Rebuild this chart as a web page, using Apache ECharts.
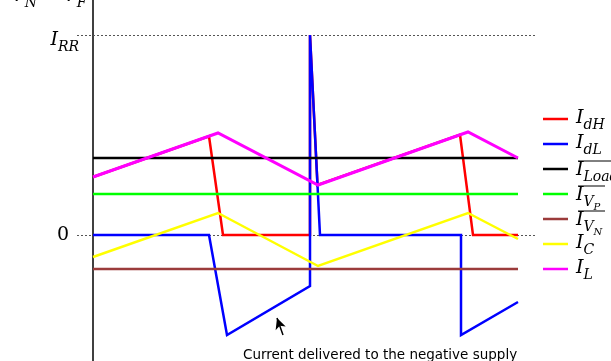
<!DOCTYPE html>
<html>
<head>
<meta charset="utf-8">
<script src="https://cdn.jsdelivr.net/npm/echarts@6/dist/echarts.min.js"></script>
<style>
  html, body { margin: 0; padding: 0; background: #fff; }
  #chart { width: 611px; height: 361px; }
</style>
</head>
<body>
<div id="chart"></div>
<script>
// Time axis in arbitrary units (one switching period ≈ 251), currents in arbitrary units.
const tRange = [0, 425];

// Inductor current (triangular ripple)
const iL = [[0, 58], [125, 102], [225, 50], [375, 103], [425, 77]];
// Capacitor current
const iC = [[0, -22], [125, 22], [225, -31], [375, 22], [425, -4]];
// High-side device current (follows I_L while conducting)
const iDH = [[0, 58], [116, 98.8], [130, 0], [217, 0], [217, 200], [224.5, 50], [367, 100.2], [380, 0], [425, 0]];
// Low-side device current, with reverse-recovery spike
const iDL = [[0, 0], [116, 0], [134, -100], [217, -51], [217, 200], [227, 0], [368, 0], [368, -100], [425, -67]];
// Average values
const iLoadAvg = 77;
const iVPAvg = 41;
const iVNAvg = -34;

// Y tick values and their labels
const yTickValues = [0, 200];
const yTickLabels = ['{z|0}', '{ai|I}{as|RR}'];

// Legend entries (math-style labels; averaged quantities get an overbar)
const seriesNames = ['IdH', 'IdL', 'ILoad', 'IVP', 'IVN', 'IC', 'IL'];
const legendLabels = [
  '{i|I}{s|dH}',
  '{i|I}{s|dL}',
  '{i|I}{s|Load}',
  '{i|I}{s|V}{ss|P}',
  '{i|I}{s|V}{ss|N}',
  '{i|I}{s|C}',
  '{i|I}{s|L}'
];
const legendOverbar = [false, false, true, true, true, false, false];
const seriesColors = ['#ff0000', '#0000ff', '#000000', '#00ff00', '#9b3b3b', '#ffff00', '#ff00ff'];
const seriesWidths = [2.5, 2.5, 2.5, 2.5, 2.5, 2.5, 3];

// Annotation arrow (tail → head) and its text
const arrowTail = [190, -100];
const arrowHead = [184, -83];
const noteText = 'Current delivered to the negative supply';

const serif = 'DejaVu Serif';
function tok(size, lh, pad) {
  return { fontFamily: serif, fontStyle: 'italic', fontSize: size, lineHeight: lh, verticalAlign: 'top', padding: pad, color: '#000', fill: '#000' };
}
const rich = {
  i: tok(19, 19, [0, 0, 0, 0]),
  s: tok(14, 14, [9, 0, 0, 0]),
  ss: tok(10, 10, [16, 0, 0, 0]),
  ai: tok(19, 19, [5, 0, 0, 0]),
  as: tok(14, 13, [15, 0, 0, 0]),
  z: { fontFamily: serif, fontSize: 19, lineHeight: 19, padding: [0, 10, 0, 0], color: '#000' }
};

function flat(v) { return [[tRange[0], v], [tRange[1], v]]; }

const seriesData = [iDH, iDL, flat(iLoadAvg), flat(iVPAvg), flat(iVNAvg), iC, iL];

const series = seriesData.map((d, k) => ({
  name: seriesNames[k],
  type: 'line',
  data: d,
  symbol: 'none',
  showSymbol: false,
  animation: false,
  z: 2 + k,
  lineStyle: { color: seriesColors[k], width: seriesWidths[k], join: 'miter' },
  itemStyle: { color: seriesColors[k] }
}));

// Dotted reference lines at the labelled levels
series.push({
  type: 'line',
  data: [],
  silent: true,
  z: 1,
  markLine: {
    silent: true,
    z: 1,
    symbol: 'none',
    animation: false,
    label: { show: false },
    lineStyle: { color: '#555', type: [2, 2], width: 1 },
    data: yTickValues.map(v => ({ yAxis: v }))
  }
});

// Arrow pointing at the low-side current ramp
series.push({
  type: 'line',
  data: [],
  silent: true,
  z: 20,
  markLine: {
    silent: true,
    z: 20,
    symbol: ['none', 'arrow'],
    symbolSize: [8, 11],
    animation: false,
    label: { show: false },
    lineStyle: { color: '#000', type: 'solid', width: 1.5 },
    data: [[{ coord: arrowTail }, { coord: arrowHead }]]
  }
});

// Legend geometry: one row every 25 px, swatches 25 px wide
const legendLeft = 543, firstIconY = 119, legendStep = 25, labelLeft = 576;
const iconY = k => firstIconY + legendStep * k;

// Legend labels drawn as rich text next to the swatches
const legendGraphics = [];
legendLabels.forEach((lab, k) => {
  const y = iconY(k);
  const top = legendOverbar[k] ? y - 8 : y - 10;
  legendGraphics.push({ type: 'text', left: labelLeft, top: top, z: 10, style: { text: lab, rich: rich } });
  if (legendOverbar[k]) {
    legendGraphics.push({
      type: 'line', z: 10,
      shape: { x1: labelLeft + 2, y1: y - 8, x2: k === 2 ? 611 : 605, y2: y - 8 },
      style: { stroke: '#000', lineWidth: 1 }
    });
  }
});

const chart = echarts.init(document.getElementById('chart'), null, { renderer: 'canvas' });
chart.setOption({
  animation: false,
  backgroundColor: '#fff',
  grid: { left: 77, right: 76, top: 0, bottom: 0, containLabel: false, outerBoundsMode: 'none' },
  xAxis: {
    type: 'value', min: -16, max: 442, show: false
  },
  yAxis: {
    type: 'value', min: -126, max: 235,
    axisLine: { show: true, onZero: true, lineStyle: { color: '#000', width: 1.5 } },
    axisTick: { show: false },
    splitLine: { show: false },
    axisLabel: {
      show: true,
      customValues: yTickValues,
      margin: -2,
      formatter: v => {
        const k = yTickValues.indexOf(v);
        return k < 0 ? '' : yTickLabels[k];
      },
      rich: rich
    }
  },
  legend: {
    orient: 'vertical',
    left: legendLeft,
    top: firstIconY - legendStep / 2,
    icon: 'rect',
    itemWidth: 25,
    itemHeight: 2.5,
    itemGap: 0,
    padding: 0,
    data: seriesNames,
    formatter: () => ' ',
    textStyle: { fontSize: 12, lineHeight: legendStep },
    selectedMode: false
  },
  graphic: legendGraphics.concat([
    // labels of the panel above, mostly outside the view
    { type: 'text', left: 11, top: -13, style: { text: '{i|V}{s|N}', rich: rich } },
    { type: 'text', left: 63, top: -13, style: { text: '{i|V}{s|F}', rich: rich } },
    // annotation
    { type: 'text', left: 243, top: 348, style: { text: noteText, font: '13.5px "DejaVu Sans"', fill: '#000' } }
  ]),
  series: series
});
</script>
</body>
</html>
